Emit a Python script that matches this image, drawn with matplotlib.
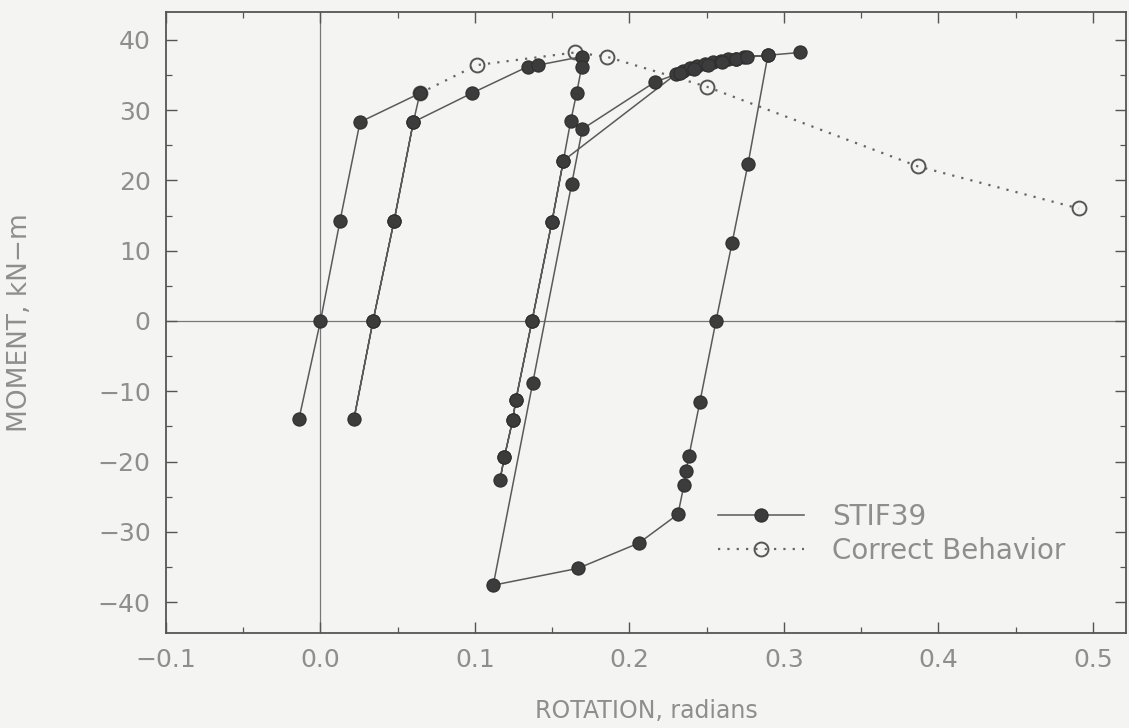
import matplotlib
matplotlib.use("Agg")
import matplotlib.pyplot as plt
from matplotlib.ticker import MultipleLocator, FixedLocator

# ---- data ----
stif_rot = [
    -0.0139, 0.0000, 0.0126, 0.0256, 0.0644,
    0.0601, 0.0476, 0.0340, 0.0217,
    0.0340, 0.0476, 0.0601, 0.0979, 0.1343, 0.1408, 0.1690, 0.1690,
    0.1658, 0.1620, 0.1572, 0.1498, 0.1369, 0.1265, 0.1244, 0.1190, 0.1162,
    0.1190, 0.1244, 0.1265, 0.1369, 0.1498, 0.1572,
    0.2300, 0.2345, 0.2390, 0.2440, 0.2490, 0.2540, 0.2590, 0.2640, 0.2690, 0.2740,
    0.2896,
    0.2767, 0.2664, 0.2560, 0.2456, 0.2385, 0.2366, 0.2353, 0.2314, 0.2061, 0.1667, 0.1118,
    0.1373, 0.1626, 0.1695, 0.2165, 0.2330, 0.2420, 0.2510, 0.2600, 0.2690, 0.2760,
    0.2896, 0.3104,
]
stif_mom = [
    -13.9, 0.0, 14.2, 28.3, 32.4,
    28.3, 14.2, 0.0, -13.9,
    0.0, 14.2, 28.3, 32.4, 36.2, 36.4, 37.6, 36.1,
    32.4, 28.5, 22.8, 14.1, 0.0, -11.2, -14.1, -19.4, -22.6,
    -19.4, -14.1, -11.2, 0.0, 14.1, 22.8,
    35.1, 35.6, 36.0, 36.3, 36.6, 36.8, 37.0, 37.2, 37.3, 37.5,
    37.8,
    22.3, 11.1, 0.0, -11.5, -19.2, -21.3, -23.3, -27.5, -31.6, -35.2, -37.6,
    -8.9, 19.5, 27.3, 34.0, 35.3, 35.9, 36.4, 36.9, 37.2, 37.6,
    37.8, 38.2,
]

correct_rot = [0.0644, 0.1011, 0.1647, 0.1852, 0.2504, 0.3866, 0.4909]
correct_mom = [32.4, 36.4, 38.2, 37.6, 33.3, 22.0, 16.0]

x_ticks = [-0.1, 0.0, 0.1, 0.2, 0.3, 0.4, 0.5]
x_tick_labels = ["\u22120.1", "0.0", "0.1", "0.2", "0.3", "0.4", "0.5"]
y_ticks = [-40, -30, -20, -10, 0, 10, 20, 30, 40]
y_tick_labels = ["\u221240", "\u221230", "\u221220", "\u221210", "0", "10", "20", "30", "40"]

series_labels = ["STIF39", "Correct Behavior"]

# ---- styling ----
bg = "#f4f4f2"
txt = "#8e8e8e"
ink = "#555555"

plt.rcParams["font.family"] = ["DejaVu Sans"]

fig = plt.figure(figsize=(11.29, 7.28), dpi=100, facecolor=bg)
ax = fig.add_axes([166 / 1129, 1 - 633 / 728, 960 / 1129, 621.3 / 728])
ax.set_facecolor(bg)

ax.axhline(0, color="#777777", lw=0.9, zorder=1)
ax.axvline(0, color="#777777", lw=0.9, zorder=1)

ax.plot(correct_rot, correct_mom, linestyle=(0, (1, 3.2)), lw=1.6, color="#666666",
        marker="o", markersize=10, markerfacecolor="none", markeredgecolor="#555555",
        markeredgewidth=1.4, label=series_labels[1], zorder=2)
ax.plot(stif_rot, stif_mom, linestyle="-", lw=1.1, color="#5a5a5a",
        marker="o", markersize=9.5, markerfacecolor="#3c3c3c", markeredgecolor="#2e2e2e",
        markeredgewidth=0.8, label=series_labels[0], zorder=3)

ax.set_xlim(-0.1, 0.5214)
ax.set_ylim(-44.4, 44.0)

ax.xaxis.set_major_locator(FixedLocator(x_ticks))
ax.set_xticklabels(x_tick_labels)
ax.xaxis.set_minor_locator(MultipleLocator(0.05))
ax.yaxis.set_major_locator(FixedLocator(y_ticks))
ax.set_yticklabels(y_tick_labels)
ax.yaxis.set_minor_locator(MultipleLocator(5))

ax.tick_params(which="both", direction="in", top=True, right=True, color=ink)
ax.tick_params(which="major", length=8, width=1.0, labelsize=18, labelcolor=txt, pad=11)
ax.tick_params(which="minor", length=4, width=0.9)

for s in ax.spines.values():
    s.set_color(ink)
    s.set_linewidth(1.3)

ax.set_xlabel("ROTATION, radians", fontsize=17, color=txt, va="center")
ax.set_ylabel("MOMENT, kN\u2212m", fontsize=19, color=txt, va="center")
ax.xaxis.set_label_coords(0.5, -0.1255)
ax.yaxis.set_label_coords(-0.152, 0.5)

handles, labels = ax.get_legend_handles_labels()
order = [1, 0]
leg = ax.legend([handles[i] for i in order], [labels[i] for i in order],
                loc="center left", bbox_to_anchor=(0.575, 0.1597), frameon=False,
                fontsize=20, handlelength=3.1, handletextpad=1.0, labelspacing=0.22,
                borderpad=0, borderaxespad=0, numpoints=1)
for t in leg.get_texts():
    t.set_color(txt)

fig.savefig("out.png", dpi=100, facecolor=bg)
